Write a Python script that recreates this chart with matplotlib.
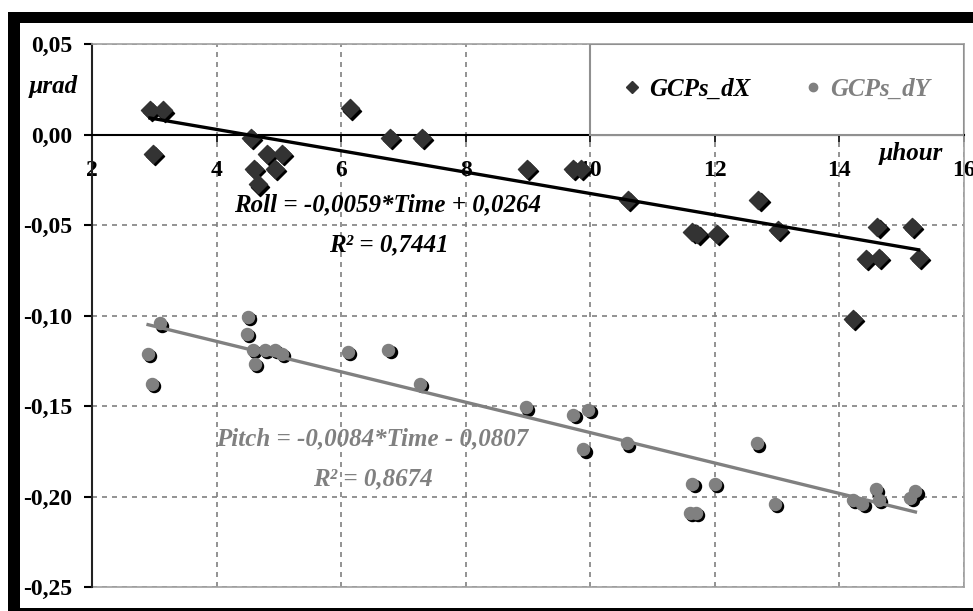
import matplotlib
matplotlib.use("Agg")
import matplotlib.pyplot as plt
import matplotlib.transforms as mtransforms
from matplotlib.patches import Rectangle
from matplotlib.lines import Line2D
import numpy as np

# GCPs_dX (roll residuals)
time_dx = [2.93, 3.14, 2.98, 4.55, 4.81, 5.05, 4.60, 4.94, 4.67, 6.14, 6.79, 7.30,
           8.99, 9.72, 9.85, 10.60, 11.64, 11.72, 12.04, 12.70, 13.02, 14.61,
           15.17, 14.42, 14.63, 15.27, 14.22]
dx = [0.0138, 0.0133, -0.0105, -0.0020, -0.0105, -0.0105, -0.0190, -0.0190, -0.0276,
      0.0144, -0.0020, -0.0020, -0.0188, -0.0190, -0.0190, -0.0360, -0.0536,
      -0.0550, -0.0547, -0.0360, -0.0525, -0.0510, -0.0510, -0.0690, -0.0680,
      -0.0680, -0.1020]

# GCPs_dY (pitch residuals)
time_dy = [3.09, 2.90, 2.96, 4.51, 4.49, 4.59, 4.78, 4.94, 5.05, 4.62, 6.11, 6.76,
           7.27, 8.96, 9.73, 9.97, 9.89, 10.59, 11.64, 12.00, 11.60, 11.69, 12.68,
           12.97, 14.21, 14.37, 14.58, 14.63, 15.22, 15.14]
dy = [-0.1044, -0.1215, -0.1376, -0.1006, -0.1100, -0.1190, -0.1190, -0.1190, -0.1210,
      -0.1270, -0.1200, -0.1190, -0.1380, -0.1508, -0.1547, -0.1520, -0.1740,
      -0.1707, -0.1930, -0.1930, -0.2090, -0.2090, -0.1707, -0.2040, -0.2017,
      -0.2039, -0.1961, -0.2017, -0.1972, -0.2006]

# trend lines as printed on the chart
roll_coef = (-0.0059, 0.0264)
pitch_coef = (-0.0084, -0.0807)

x_ticks = [2, 4, 6, 8, 10, 12, 14, 16]
y_ticks = [-0.25, -0.20, -0.15, -0.10, -0.05, 0.00, 0.05]

GRAY = "#808080"
DARK = "#333333"
font = "Liberation Serif"
plt.rcParams["font.family"] = font
plt.rcParams["font.weight"] = "bold"

W, H = 973, 611
fig = plt.figure(figsize=(W / 100, H / 100), dpi=100)
ax = fig.add_axes([92 / W, 1 - 587 / H, (964 - 92) / W, (587 - 44) / H])

# black frame around the picture
for (x0, y0, w, h) in [(8, 12, 965, 11), (8, 12, 12, 599), (8, 608, 965, 3)]:
    fig.add_artist(Rectangle((x0 / W, 1 - (y0 + h) / H), w / W, h / H,
                             transform=fig.transFigure, color="black", lw=0))

ax.set_xlim(2, 16)
ax.set_ylim(-0.25, 0.05)
ax.set_xticks(x_ticks)
ax.set_yticks(y_ticks)
ax.set_xticklabels([str(t) for t in x_ticks])
ax.set_yticklabels([("%.2f" % t).replace(".", ",") for t in y_ticks])

ax.spines["bottom"].set_position(("data", 0))
ax.spines["bottom"].set_linewidth(1.5)
ax.spines["left"].set_linewidth(1.5)
ax.spines["left"].set_color("#222222")
for s in ["top", "right"]:
    ax.spines[s].set_color("#a0a0a0")
    ax.spines[s].set_linewidth(1.2)
ax.plot([0, 1], [0, 0], transform=ax.transAxes, color="#a0a0a0", lw=1.2,
        clip_on=False, zorder=2)
ax.tick_params(axis="y", direction="out", length=6, width=1.5, pad=8, labelsize=17)
ax.tick_params(axis="x", direction="out", length=5, width=1.2, pad=13, labelsize=17)

ax.grid(True, color=GRAY, linestyle=(0, (3, 3)), linewidth=1.2)
ax.set_axisbelow(True)

# data with a small drop shadow
shadow = mtransforms.offset_copy(ax.transData, fig=fig, x=1.5, y=-1.5, units="points")
ax.scatter(time_dx, dx, marker="D", s=85, color="black", transform=shadow, zorder=3)
ax.scatter(time_dx, dx, marker="D", s=85, color=DARK, zorder=4)
ax.scatter(time_dy, dy, marker="o", s=75, color="black", transform=shadow, zorder=3)
ax.scatter(time_dy, dy, marker="o", s=75, color=GRAY, zorder=4)

tx = np.array([min(time_dx), max(time_dx)])
ax.plot(tx, roll_coef[0] * tx + roll_coef[1], color="black", lw=2.4, zorder=5)
ty = np.array([min(time_dy), max(time_dy)])
ax.plot(ty, pitch_coef[0] * ty + pitch_coef[1], color=GRAY, lw=2.4, zorder=5)

tprops = dict(fontweight="bold", fontstyle="italic", fontsize=18,
              ha="center", va="center", zorder=6)
ax.text(6.75, -0.0387, "Roll = -0,0059*Time + 0,0264", color="black", **tprops)
ax.text(6.76, -0.0608, "R² = 0,7441", color="black", **tprops)
ax.text(6.49, -0.168, "Pitch = -0,0084*Time - 0,0807", color=GRAY, **tprops)
ax.text(6.51, -0.190, "R² = 0,8674", color=GRAY, **tprops)
ax.text(15.14, -0.0105, "µhour", color="black", **tprops)
fig.text(53 / W, 1 - 87 / H, "µrad", fontweight="bold",
         fontstyle="italic", fontsize=18, ha="center", va="center")

# legend box in the upper right corner of the plot
ax.add_patch(Rectangle((10, 0), 6, 0.05, facecolor="white", edgecolor="#909090",
                       lw=1.5, zorder=7))
handles = [Line2D([], [], marker="D", color=DARK, ls="", ms=6),
           Line2D([], [], marker="o", color=GRAY, ls="", ms=6)]
leg = ax.legend(handles, ["GCPs_dX", "GCPs_dY"], loc="center",
                bbox_to_anchor=(8 / 14, 0.25 / 0.3, 6 / 14, 0.05 / 0.3),
                ncol=2, frameon=False, handlelength=0.6, handletextpad=0.4,
                columnspacing=2.2,
                prop=dict(family=font, weight="bold", style="italic", size=18))
leg.set_zorder(8)
leg.get_texts()[1].set_color(GRAY)

fig.savefig("out.png", dpi=100, facecolor="white")
